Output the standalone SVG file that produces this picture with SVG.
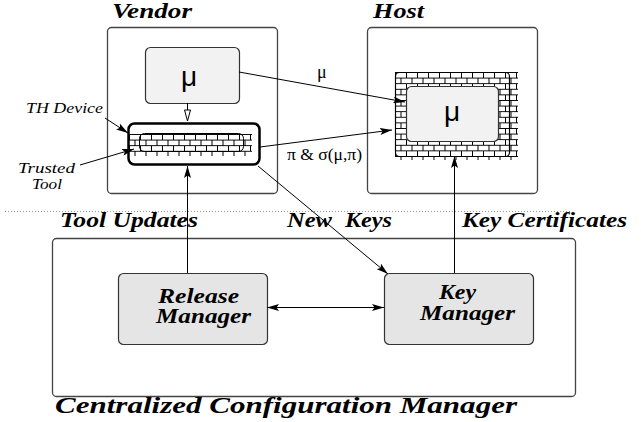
<svg xmlns="http://www.w3.org/2000/svg" width="641" height="422" viewBox="0 0 641 422">
<style>
.frame{fill:#fff;stroke:#444;stroke-width:1.3}
.grey{fill:#e5e5e5;stroke:#333;stroke-width:1.2}
.light{fill:#f2f2f2;stroke:#333;stroke-width:1.2}
.lbl{font-family:"Liberation Serif","Times New Roman",serif;font-weight:bold;font-style:italic;fill:#000}
.mu{font-family:"Liberation Sans",sans-serif;font-size:28px;text-anchor:middle;fill:#000}
.sm{font-family:"Liberation Serif",serif;fill:#000}
.scr{font-family:"Liberation Serif",serif;font-style:italic;fill:#000}
.conn{stroke:#000;stroke-width:1;fill:none}
</style>
<defs>
<marker id="ah" viewBox="0 0 12 7" refX="12" refY="3.5" markerWidth="12" markerHeight="7" orient="auto-start-reverse" markerUnits="userSpaceOnUse">
<path d="M0,0 L12,3.5 L0,7 L2.5,3.5 z" fill="#000"/>
</marker>
<pattern id="brickH" patternUnits="userSpaceOnUse" x="395" y="72" width="11" height="11.2">
<path d="M0,0.5H11 M0,6.1H11 M0.5,0V5.6 M6,5.6V11.2" stroke="#000" stroke-width="1" fill="none"/>
</pattern>
<pattern id="brickD" patternUnits="userSpaceOnUse" x="129" y="134" width="11" height="11.2">
<path d="M0,0.5H11 M0,6.1H11 M0.5,0V5.6 M6,5.6V11.2" stroke="#000" stroke-width="1" fill="none"/>
</pattern>
</defs>
<rect width="641" height="422" fill="#fff"/>

<line x1="5" y1="211.5" x2="570" y2="211.5" stroke="#999" stroke-width="1" stroke-dasharray="1,2"/>

<g id="vendor">
<rect class="frame" x="107.5" y="27.5" width="170" height="166" rx="4"/>
<text class="lbl" x="112" y="18" font-size="21" textLength="80" lengthAdjust="spacingAndGlyphs">Vendor</text>
</g>

<g id="vendor-mu">
<rect class="light" x="145.5" y="47.5" width="94" height="56" rx="5"/>
<text class="mu" x="189" y="86">μ</text>
</g>

<g id="th-device">
<rect x="128" y="123" width="132" height="42" rx="6" fill="#fff"/>
<rect x="129" y="134" width="123" height="22" fill="url(#brickD)"/>
<rect x="139.5" y="133.5" width="104" height="18" rx="5" fill="none" stroke="#000" stroke-width="1"/>
<rect x="128.5" y="123.5" width="131" height="41" rx="6" fill="none" stroke="#000" stroke-width="2.5"/>
</g>

<g id="host">
<rect class="frame" x="367.5" y="27.5" width="170" height="166" rx="4"/>
<text class="lbl" x="373" y="18" font-size="21" textLength="51" lengthAdjust="spacingAndGlyphs">Host</text>
</g>

<g id="host-mu">
<rect x="395" y="72" width="123" height="88" fill="url(#brickH)"/>
<rect x="395.5" y="72.5" width="114" height="84" rx="4" fill="none" stroke="#000" stroke-width="1.2"/>
<rect class="light" x="406.5" y="86.5" width="92" height="55" rx="5"/>
<text class="mu" x="452" y="121">μ</text>
</g>

<g id="ccm">
<rect class="frame" x="52.5" y="238.5" width="523" height="158" rx="4"/>
<text class="lbl" x="55" y="413" font-size="23" textLength="462" lengthAdjust="spacingAndGlyphs">Centralized Configuration Manager</text>
</g>

<g id="release-manager">
<rect class="grey" x="118.5" y="273.5" width="149" height="71" rx="5"/>
<text class="lbl" x="158" y="303" font-size="20" textLength="81" lengthAdjust="spacingAndGlyphs">Release</text>
<text class="lbl" x="156" y="323" font-size="20" textLength="95" lengthAdjust="spacingAndGlyphs">Manager</text>
</g>

<g id="key-manager">
<rect class="grey" x="384.5" y="273.5" width="149" height="71" rx="5"/>
<text class="lbl" x="439" y="299" font-size="20" textLength="37" lengthAdjust="spacingAndGlyphs">Key</text>
<text class="lbl" x="420" y="320" font-size="20" textLength="95" lengthAdjust="spacingAndGlyphs">Manager</text>
</g>

<g id="connectors">
<line class="conn" x1="239" y1="72" x2="405" y2="102" marker-end="url(#ah)"/>
<line class="conn" x1="260" y1="147" x2="392" y2="130" marker-end="url(#ah)"/>
<line class="conn" x1="258" y1="166" x2="388" y2="274" marker-end="url(#ah)"/>
<line class="conn" x1="187.5" y1="273" x2="187.5" y2="166" marker-end="url(#ah)"/>
<line class="conn" x1="454.5" y1="273" x2="454.5" y2="156" marker-end="url(#ah)"/>
<line class="conn" x1="267" y1="307.5" x2="384" y2="307.5" stroke-width="1.5" marker-start="url(#ah)" marker-end="url(#ah)"/>
<line class="conn" x1="105" y1="118" x2="128" y2="133" marker-end="url(#ah)"/>
<line class="conn" x1="80" y1="165" x2="134" y2="149" marker-end="url(#ah)"/>
<line class="conn" x1="187.5" y1="103" x2="187.5" y2="121"/>
<path d="M184.5,110 L187.5,121 L190.5,110 z" fill="#fff" stroke="#000" stroke-width="1"/>
</g>

<g id="labels">
<text class="sm" x="317" y="78" font-size="18">μ</text>
<text class="sm" x="287" y="160" font-size="16" textLength="75" lengthAdjust="spacingAndGlyphs">π &amp; σ(μ,π)</text>
<text class="scr" x="26" y="113" font-size="15" textLength="77" lengthAdjust="spacingAndGlyphs">TH Device</text>
<text class="scr" x="18" y="173" font-size="15" textLength="57" lengthAdjust="spacingAndGlyphs">Trusted</text>
<text class="scr" x="32" y="189" font-size="15" textLength="30" lengthAdjust="spacingAndGlyphs">Tool</text>
<text class="lbl" x="60" y="227" font-size="20" textLength="138" lengthAdjust="spacingAndGlyphs">Tool Updates</text>
<text class="lbl" y="227" font-size="20"><tspan x="287" textLength="45" lengthAdjust="spacingAndGlyphs">New</tspan><tspan x="345" textLength="47" lengthAdjust="spacingAndGlyphs">Keys</tspan></text>
<text class="lbl" x="462" y="227" font-size="20" textLength="165" lengthAdjust="spacingAndGlyphs">Key Certificates</text>
</g>
</svg>
